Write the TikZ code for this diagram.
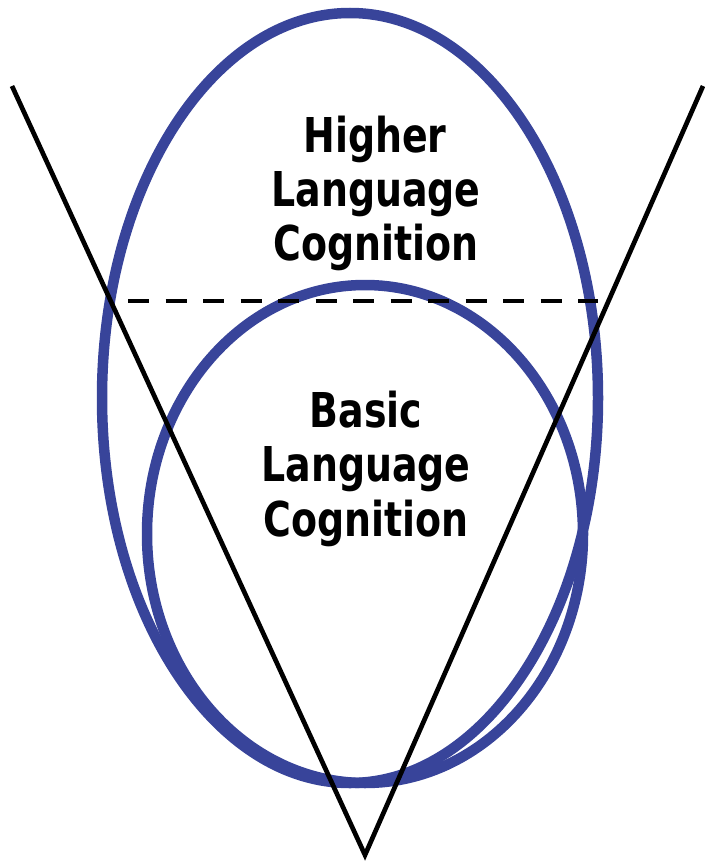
\documentclass[tikz,border=0pt]{standalone}
\usepackage{fontspec}
\setmainfont{DejaVu Sans}[FakeStretch=0.79]
\definecolor{ringblue}{RGB}{56,68,154}
\begin{document}
\begin{tikzpicture}[x=1pt,y=-1pt,
  ring/.style={draw=ringblue,line width=10.5pt},
  vline/.style={draw=black,line width=4.7pt,line join=miter},
  levelcut/.style={draw=black,line width=4.7pt,dash pattern=on 21pt off 16.5pt},
  lbl/.style={font=\fontsize{48}{56}\selectfont\bfseries,anchor=base,inner sep=0pt}]
  \useasboundingbox (0,0) rectangle (704,864);

  % the two nested ellipses
  \draw[ring] (350,398) ellipse [x radius=248, y radius=385];
  \draw[ring] (365,534) ellipse [x radius=218, y radius=249];

  % the V and the level line between the two tiers
  \coordinate (vl) at (12,86);
  \coordinate (vr) at (703,86);
  \coordinate (apex) at (365,855);
  \draw[vline] (vl) -- (apex) -- (vr);
  \coordinate (cutl) at (128,301);
  \coordinate (cutr) at (598,301);
  \draw[levelcut] (cutl) -- (cutr);

  % labels
  \node[lbl] (hi1) at (375,152) {Higher};
  \node[lbl] (hi2) at (376,206) {Language};
  \node[lbl] (hi3) at (376,260) {Cognition};
  \node[lbl] (ba1) at (366,427) {Basic};
  \node[lbl] (ba2) at (366,481) {Language};
  \node[lbl] (ba3) at (366,536) {Cognition};
\end{tikzpicture}
\end{document}
